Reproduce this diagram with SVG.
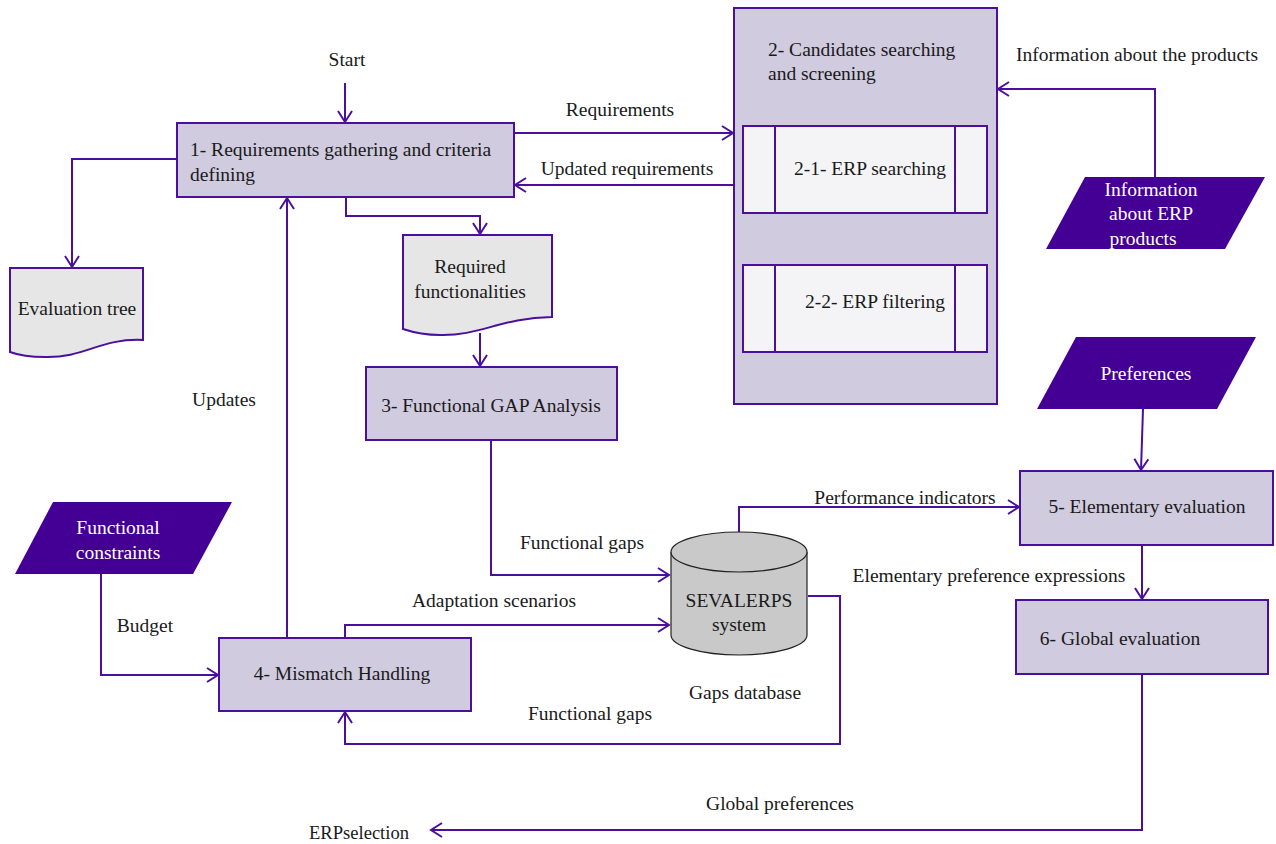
<svg xmlns="http://www.w3.org/2000/svg" width="1276" height="844" viewBox="0 0 1276 844">
  <style>
    text { font-family: "Liberation Serif", "Times New Roman", serif; font-size: 19.5px; fill: #1a1a1a; }
    .w { fill: #ffffff; }
    .mid { text-anchor: middle; }
    .proc { fill: #d0cbdf; stroke: #4a0f9c; stroke-width: 2; }
    .sub { fill: #f4f4f6; stroke: #4a0f9c; stroke-width: 2; }
    .doc { fill: #e6e6e6; stroke: #4a0f9c; stroke-width: 2; }
    .data { fill: #440094; stroke: none; }
    .db { fill: #c9c9c9; stroke: #222222; stroke-width: 1.2; }
    .conn { fill: none; stroke: #4a0f9c; stroke-width: 2; }
  </style>
  <defs>
    <marker id="arrow" markerUnits="userSpaceOnUse" markerWidth="14" markerHeight="16" refX="12" refY="8" orient="auto">
      <path d="M1,1 L12,8 L1,15" fill="none" stroke="#4a0f9c" stroke-width="2"/>
    </marker>
  </defs>
  <rect width="1276" height="844" fill="#ffffff"/>

  <!-- connectors -->
  <g id="connectors" class="conn">
    <path d="M345,83 V122" marker-end="url(#arrow)"/>
    <path d="M514,133 H733" marker-end="url(#arrow)"/>
    <path d="M734,185 H515" marker-end="url(#arrow)"/>
    <path d="M177,159 H72 V267" marker-end="url(#arrow)"/>
    <path d="M346,197 V216 H480 V234" marker-end="url(#arrow)"/>
    <path d="M480,333 V366" marker-end="url(#arrow)"/>
    <path d="M287,638 V198" marker-end="url(#arrow)"/>
    <path d="M865,213 V264" marker-end="url(#arrow)"/>
    <path d="M1155,177 V89 H998" marker-end="url(#arrow)"/>
    <path d="M491,440 V575 H669" marker-end="url(#arrow)"/>
    <path d="M345,638 V625 H669" marker-end="url(#arrow)"/>
    <path d="M739,532 V507 H1019" marker-end="url(#arrow)"/>
    <path d="M808,596 H840 V744 H345 V712" marker-end="url(#arrow)"/>
    <path d="M101,574 V675 H218" marker-end="url(#arrow)"/>
    <path d="M1143,409 L1141,470" marker-end="url(#arrow)"/>
    <path d="M1142,545 V599" marker-end="url(#arrow)"/>
    <path d="M1142,674 V830 H431" marker-end="url(#arrow)"/>
  </g>

  <!-- connector labels -->
  <g id="labels">
    <text x="347" y="66" class="mid">Start</text>
    <text x="620" y="116" class="mid">Requirements</text>
    <text x="627" y="175" class="mid">Updated requirements</text>
    <text x="933" y="246" class="mid">ERP candidates</text>
    <text x="1016" y="61">Information about the products</text>
    <text x="224" y="406" class="mid">Updates</text>
    <text x="582" y="549" class="mid">Functional gaps</text>
    <text x="494" y="607" class="mid">Adaptation scenarios</text>
    <text x="145" y="632" class="mid">Budget</text>
    <text x="905" y="504" class="mid">Performance indicators</text>
    <text x="989" y="582" class="mid">Elementary preference expressions</text>
    <text x="745" y="699" class="mid">Gaps database</text>
    <text x="590" y="720" class="mid">Functional gaps</text>
    <text x="780" y="810" class="mid">Global preferences</text>
    <text x="309" y="839" textLength="100" lengthAdjust="spacingAndGlyphs">ERPselection</text>
  </g>

  <g id="node-requirements">
    <rect class="proc" x="177" y="123" width="337" height="74"/>
    <text x="190" y="156">1- Requirements gathering and criteria</text>
    <text x="190" y="181">defining</text>
  </g>

  <g id="node-candidates">
    <rect class="proc" x="734" y="8" width="263" height="396"/>
    <text x="768" y="56">2- Candidates searching</text>
    <text x="768" y="80">and screening</text>
  </g>

  <g id="node-erp-searching">
    <rect class="sub" x="743" y="126" width="244" height="87"/>
    <path class="conn" d="M775,126 V213 M955,126 V213"/>
    <text x="870" y="175" class="mid">2-1- ERP searching</text>
  </g>

  <g id="node-erp-filtering">
    <rect class="sub" x="743" y="265" width="244" height="87"/>
    <path class="conn" d="M775,265 V352 M955,265 V352"/>
    <text x="875" y="308" class="mid">2-2- ERP filtering</text>
  </g>

  <g id="node-info-erp">
    <polygon class="data" points="1046,249 1085,177 1265,177 1225,249"/>
    <text x="1151" y="196" class="mid w">Information</text>
    <text x="1151" y="220" class="mid w">about ERP</text>
    <text x="1143" y="245" class="mid w">products</text>
  </g>

  <g id="node-evaluation-tree">
    <path class="doc" d="M10,268 H143 V340 C100,338 85,358 45,357 C30,357 18,355 10,352 Z"/>
    <text x="77" y="315" class="mid">Evaluation tree</text>
  </g>

  <g id="node-required-functionalities">
    <path class="doc" d="M403,235 H552 V317 C500,318 480,336 440,335 C425,335 412,332 403,329 Z"/>
    <text x="470" y="273" class="mid">Required</text>
    <text x="470" y="298" class="mid">functionalities</text>
  </g>

  <g id="node-gap-analysis">
    <rect class="proc" x="366" y="367" width="251" height="73"/>
    <text x="491" y="412" class="mid">3- Functional GAP Analysis</text>
  </g>

  <g id="node-functional-constraints">
    <polygon class="data" points="15,574 53,502 232,502 193,574"/>
    <text x="118" y="534" class="mid w">Functional</text>
    <text x="118" y="559" class="mid w">constraints</text>
  </g>

  <g id="node-mismatch">
    <rect class="proc" x="219" y="638" width="252" height="73"/>
    <text x="342" y="680" class="mid">4- Mismatch Handling</text>
  </g>

  <g id="node-sevalerps">
    <path class="db" d="M671,552 V635 A68,20 0 0 0 807,635 V552"/>
    <ellipse class="db" cx="739" cy="552" rx="68" ry="20"/>
    <text x="739" y="607" class="mid">SEVALERPS</text>
    <text x="739" y="631" class="mid">system</text>
  </g>

  <g id="node-preferences">
    <polygon class="data" points="1037,409 1076,337 1256,337 1217,409"/>
    <text x="1146" y="380" class="mid w">Preferences</text>
  </g>

  <g id="node-elementary">
    <rect class="proc" x="1020" y="471" width="253" height="74"/>
    <text x="1147" y="513" class="mid">5- Elementary evaluation</text>
  </g>

  <g id="node-global">
    <rect class="proc" x="1016" y="600" width="252" height="74"/>
    <text x="1120" y="645" class="mid">6- Global evaluation</text>
  </g>
</svg>
